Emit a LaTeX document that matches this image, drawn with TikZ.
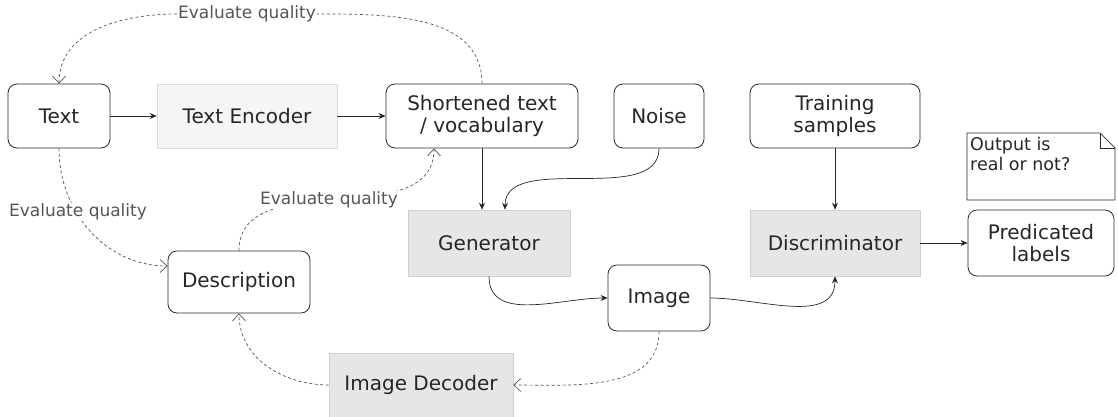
\documentclass[tikz,border=0pt]{standalone}
\usepackage{fontspec}
\setmainfont{DejaVu Sans}
\usetikzlibrary{arrows.meta, positioning}
\definecolor{box-border}{HTML}{2B2B2B}
\definecolor{block-fill}{HTML}{E6E6E6}
\definecolor{block-light}{HTML}{F5F5F5}
\definecolor{block-border}{HTML}{CFCFCF}
\definecolor{ink}{HTML}{262626}
\definecolor{muted}{HTML}{555555}
\tikzset{
  item/.style={
    draw=box-border, rounded corners=9pt, line width=0.8pt,
    minimum height=64pt, align=center, inner sep=0pt,
    font=\fontsize{20}{22}\selectfont, text=ink
  },
  block/.style={
    draw=block-border, fill=block-fill, line width=0.6pt,
    minimum height=66pt, align=center, inner sep=0pt,
    font=\fontsize{20}{22}\selectfont, text=ink
  },
  flow/.style={
    draw=ink, line width=0.7pt, -{Stealth[length=7pt,width=6pt]}
  },
  check/.style={
    draw=muted, line width=0.7pt, dash pattern=on 3pt off 2.5pt,
    -{Straight Barb[length=7pt,width=13pt]}
  },
  evallbl/.style={font=\fontsize{17}{19}\selectfont, text=muted, fill=white, inner sep=1pt},
  notetext/.style={font=\fontsize{17.5}{20}\selectfont, text=ink, align=left, inner sep=1pt}
}

\begin{document}
\begin{tikzpicture}[x=1pt, y=1pt]
  \useasboundingbox (0,0) rectangle (1118,-416);

  % ---- Top row -------------------------------------------------------------
  \node[item, minimum width=102pt] (txt) at (59,-116) {Text};
  \node[block, fill=block-light, draw=block-light!90!black, minimum height=64pt, minimum width=180pt] (enc) at (247,-116) {Text Encoder};
  \node[item, minimum width=192pt] (short) at (482,-116) {Shortened text\\/ vocabulary};
  \node[item, minimum width=90pt] (noise) at (659,-116) {Noise};
  \node[item, minimum width=170pt] (train) at (835,-116) {Training\\samples};

  % ---- Middle row ----------------------------------------------------------
  \node[block, minimum width=162pt] (gen) at (489,-243) {Generator};
  \node[block, minimum width=170pt] (disc) at (835,-243) {Discriminator};
  \node[item, minimum width=146pt, minimum height=66pt] (pred) at (1041,-243) {Predicated\\labels};
  \node[item, minimum width=142pt, minimum height=62pt] (desc) at (239,-282) {Description};
  \node[item, minimum width=102pt, minimum height=66pt] (img) at (659,-298) {Image};

  % ---- Bottom row ----------------------------------------------------------
  \node[block, minimum width=184pt, minimum height=64pt] (dec) at (421,-385) {Image Decoder};

  % ---- Note ----------------------------------------------------------------
  \draw[draw=box-border, line width=0.7pt]
    (967,-133) -- (1100,-133) -- (1115,-148) -- (1115,-200) -- (967,-200) -- cycle;
  \draw[draw=box-border, line width=0.7pt] (1100,-133) -- (1100,-148) -- (1115,-148);
  \node[notetext, anchor=north west] (note) at (969,-136) {Output is\\real or not?};

  % ---- Main flow -----------------------------------------------------------
  \draw[flow] (txt) -- (enc);
  \draw[flow] (enc) -- (short);
  \draw[flow] (short.south) -- (short.south |- gen.north);
  \draw[flow] (noise.south) to[out=-90, in=90, looseness=0.9] ([xshift=16pt]gen.north);
  \draw[flow] (train) -- (disc);
  \draw[flow] (disc) -- (pred);
  \draw[flow] (gen.south) to[out=-90, in=180] (img.west);
  \draw[flow] (img.east) to[out=0, in=-90] (disc.south);

  % ---- Quality checks ------------------------------------------------------
  \node[evallbl] (evtop) at (247,-14) {Evaluate quality};
  \draw[check, -] (short.north) to[out=90, in=0] (evtop.east);
  \draw[check] (evtop.west) to[out=180, in=90] (txt.north);

  \draw[check] (txt.south) to[out=-90, in=180] ([yshift=16pt]desc.west);
  \node[evallbl] (evleft) at (78,-212) {Evaluate quality};

  \draw[check] (desc.north) to[out=90, in=-90] ([xshift=-48pt]short.south);
  \node[evallbl] (evmid) at (329,-200) {Evaluate quality};

  \draw[check] (img.south) to[out=-90, in=0] (dec.east);
  \draw[check] (dec.west) to[out=180, in=-90] (desc.south);

\end{tikzpicture}
\end{document}
